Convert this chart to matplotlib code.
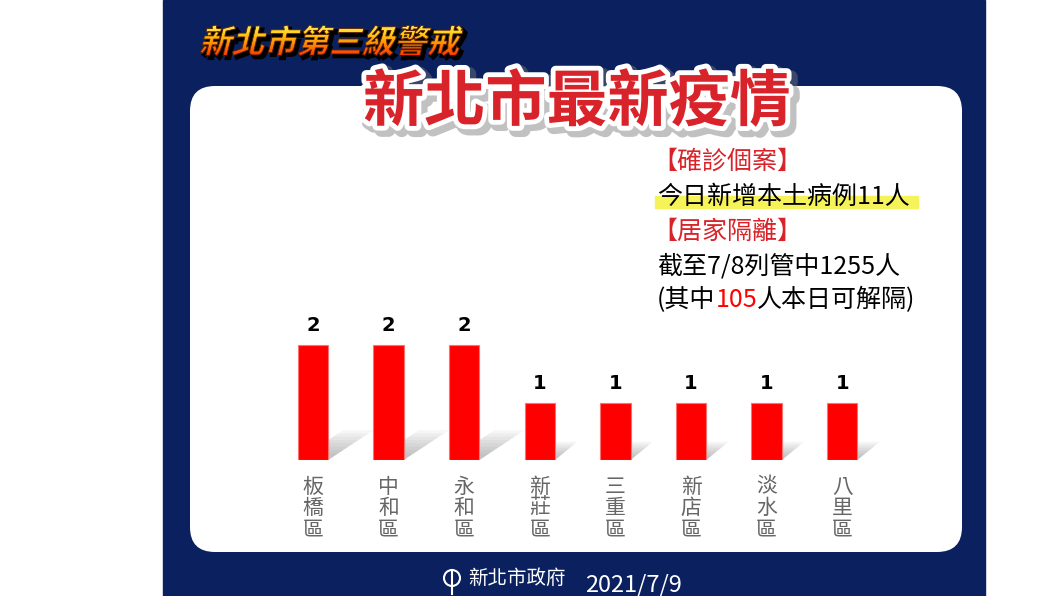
import matplotlib
matplotlib.use('Agg')
import matplotlib.pyplot as plt
import matplotlib.patheffects as pe
from matplotlib.patches import Rectangle, FancyBboxPatch, Polygon, PathPatch, Circle
from matplotlib.textpath import TextPath
from matplotlib.font_manager import FontProperties
from matplotlib.transforms import Affine2D
import numpy as np

plt.rcParams['font.family'] = ['Noto Sans CJK TC', 'DejaVu Sans']

# data
districts = ['板橋區', '中和區', '永和區', '新莊區', '三重區', '新店區', '淡水區', '八里區']
cases = [2, 2, 2, 1, 1, 1, 1, 1]

banner = '新北市第三級警戒'
title = '新北市最新疫情'
date_text = '2021/7/9'

navy = '#0b215f'
red = '#ff0000'

fig = plt.figure(figsize=(10.6, 5.96), dpi=100)
fig.patch.set_facecolor('white')

# background in pixel coords
bg = fig.add_axes([0, 0, 1, 1])
bg.set_xlim(0, 1060)
bg.set_ylim(596, 0)
bg.axis('off')

bg.add_patch(Rectangle((163, 0), 822, 596, color=navy, zorder=0))
bg.add_patch(FancyBboxPatch((215, 111), 722, 416,
                            boxstyle='round,pad=25', fc='white', ec='none', zorder=1))

# italic gradient banner
fp = FontProperties(family='Noto Sans CJK TC', weight='bold')
tp = TextPath((0, 0), banner, size=32.5, prop=fp)
base = Affine2D().skew_deg(14, 0).scale(1.0, -1.0)
shadow_tr = base + Affine2D().translate(202, 56) + bg.transData
text_tr = base + Affine2D().translate(199, 53) + bg.transData
bg.add_patch(PathPatch(tp, transform=shadow_tr, fc='black', ec='black', lw=2, zorder=2))
clip = PathPatch(tp, transform=text_tr, fc='none', ec='none', zorder=3)
bg.add_patch(clip)
grad = np.linspace(0, 1, 64)[:, None]
cmap = matplotlib.colors.LinearSegmentedColormap.from_list('g', ['#fff57a', '#ffd21a', '#ff8a00', '#ff3c00'])
im = bg.imshow(grad, cmap=cmap, extent=(195, 480, 55, 22), origin='upper',
               aspect='auto', zorder=3)
im.set_clip_path(clip)
bg.add_patch(PathPatch(tp, transform=text_tr, fc='none', ec='#5a2000', lw=0.6, zorder=4))
bg.set_xlim(0, 1060)
bg.set_ylim(596, 0)

# main title
bg.text(577, 103, title, fontsize=44, fontweight='heavy', color='#d9232a',
        ha='center', va='center', zorder=5,
        path_effects=[pe.SimpleLineShadow(offset=(3, -3), shadow_color='#777777', alpha=0.45, linewidth=10),
                      pe.Stroke(linewidth=7, foreground='white'), pe.Normal()])

# info text
fs = 18
bg.add_patch(Rectangle((655, 196), 263, 12, color='#f6f35a', zorder=2))
bg.text(652, 162, '【確診個案】', fontsize=fs, color='#d9232a', va='center', zorder=5)
bg.text(657, 197, '今日新增本土病例11人', fontsize=fs, color='black', va='center', zorder=5)
bg.text(652, 232, '【居家隔離】', fontsize=fs, color='#d9232a', va='center', zorder=5)
bg.text(657, 267, '截至7/8列管中1255人', fontsize=fs, color='black', va='center', zorder=5)
t1 = bg.text(657, 300, '(其中', fontsize=fs, color='black', va='center', zorder=5)
t2 = bg.annotate('105', xy=(1, 0), xycoords=t1, va='bottom', ha='left',
                 fontsize=fs, color=red, zorder=5)
bg.annotate('人本日可解隔)', xy=(1, 0), xycoords=t2, va='bottom', ha='left',
            fontsize=fs, color='black', zorder=5)

# footer
bg.add_patch(Circle((452, 578), 8, fc='none', ec='white', lw=1.5, zorder=5))
bg.plot([452, 452], [570, 594], color='white', lw=1.5, zorder=5)
bg.text(468, 578, '新北市政府', fontsize=14, color='white', va='center', zorder=5)
bg.text(585, 585, date_text, fontsize=17, color='white', va='center', zorder=5)

# bar chart
ax = fig.add_axes([275.2 / 1060, (596 - 460) / 596, 604.8 / 1060, 172.5 / 596])
ax.set_zorder(3)
ax.patch.set_visible(False)
ax.axis('off')
ax.set_xlim(-0.5, len(districts) - 0.5)
ax.set_ylim(0, 3)

x = np.arange(len(districts))
w = 0.4
for xi, v in zip(x, cases):
    dx = 0.3 * v
    dy = 0.2 * v + 0.12
    for k in range(8):
        f = 1 - k / 9
        xl, xr = xi - w / 2, xi + w / 2
        ax.add_patch(Polygon([(xl, 0), (xr, 0), (xr + dx * f, dy * f), (xl + dx * f, dy * f)],
                             closed=True, fc='#808080', ec='none', alpha=0.07, zorder=1))

bars = ax.bar(x, cases, width=w, color=red, edgecolor='#ff7070', linewidth=0.8, zorder=2)
for b, v in zip(bars, cases):
    ax.text(b.get_x() + b.get_width() / 2, v + 0.17, str(v), ha='center', va='bottom',
            fontsize=14, fontweight='bold', color='black', family='DejaVu Sans')

for xi, name in zip(x, districts):
    ax.text(xi, -0.27, '\n'.join(name), ha='center', va='top', fontsize=15,
            color='#666666', linespacing=0.98)

fig.savefig('out.png', dpi=100)
